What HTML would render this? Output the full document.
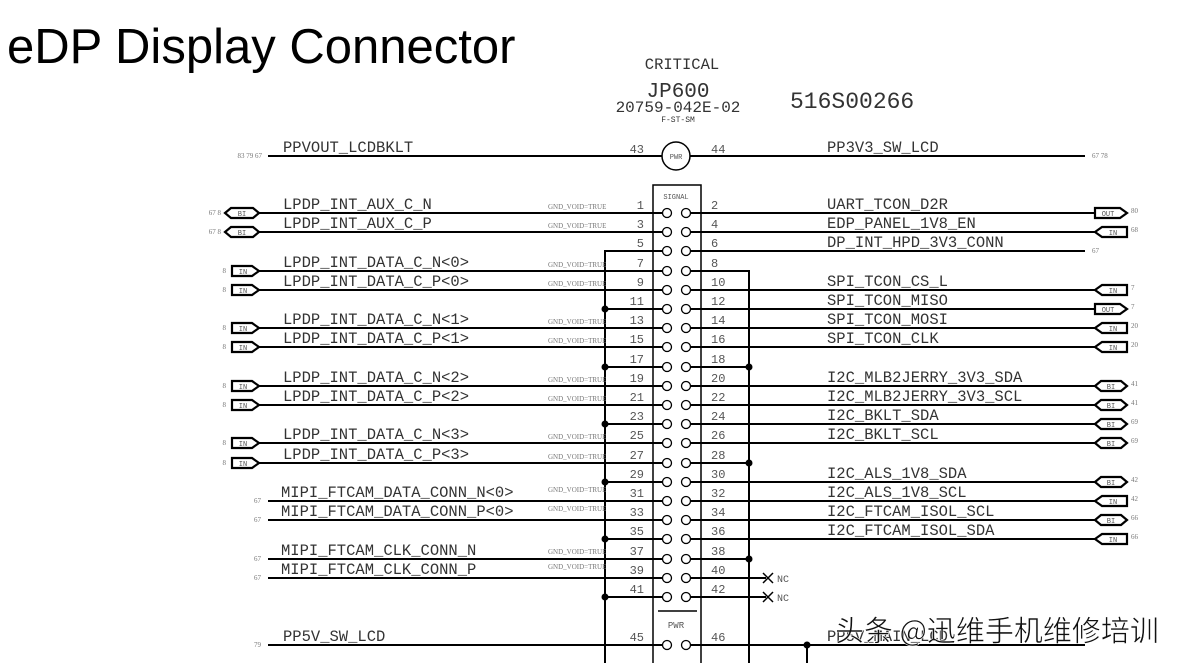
<!DOCTYPE html>
<html><head><meta charset="utf-8"><style>
html,body{margin:0;padding:0;background:#fff;}
svg{display:block;}
.t{font-family:"Liberation Mono",monospace;fill:#333;}
.lb{font-size:15.5px;}
.pn{font-size:12px;fill:#555;}
.sm{font-size:7px;fill:#777;}
.rf{font-size:7px;fill:#777;}
.fl{font-family:"Liberation Mono",monospace;font-size:7px;fill:#555;}
</style></head><body>
<svg width="1191" height="663" viewBox="0 0 1191 663" xmlns="http://www.w3.org/2000/svg">
<text x="7" y="63" font-family="Liberation Sans,sans-serif" font-size="49" fill="#000">eDP Display Connector</text>
<text class="t" x="682" y="69" font-size="15.5" text-anchor="middle">CRITICAL</text>
<text class="t" x="678" y="97" font-size="21" text-anchor="middle">JP600</text>
<text class="t" x="678" y="112" font-size="16" text-anchor="middle">20759-042E-02</text>
<text class="t" x="678" y="122" font-size="8" text-anchor="middle">F-ST-SM</text>
<text class="t" x="790" y="108" font-size="23">516S00266</text>

<g stroke="#000" stroke-width="2" fill="none">
<line x1="268" y1="156" x2="662" y2="156"/>
<line x1="690" y1="156" x2="1085" y2="156"/>
<circle cx="676" cy="156" r="14" stroke-width="1.5"/>
<path d="M653,663 L653,185 L701,185 L701,663" stroke-width="1.5"/>
<line x1="658" y1="611" x2="697" y2="611" stroke-width="1.5"/>
<path d="M662,251 L605,251 L605,663"/>
<path d="M691,271 L749,271 L749,663"/>
<line x1="259" y1="213" x2="662" y2="213"/>
<line x1="259" y1="232" x2="662" y2="232"/>
<line x1="259" y1="271" x2="662" y2="271"/>
<line x1="259" y1="290" x2="662" y2="290"/>
<line x1="605" y1="309" x2="662" y2="309"/>
<line x1="259" y1="328" x2="662" y2="328"/>
<line x1="259" y1="347" x2="662" y2="347"/>
<line x1="605" y1="367" x2="662" y2="367"/>
<line x1="259" y1="386" x2="662" y2="386"/>
<line x1="259" y1="405" x2="662" y2="405"/>
<line x1="605" y1="424" x2="662" y2="424"/>
<line x1="259" y1="443" x2="662" y2="443"/>
<line x1="259" y1="463" x2="662" y2="463"/>
<line x1="605" y1="482" x2="662" y2="482"/>
<line x1="268" y1="501" x2="662" y2="501"/>
<line x1="268" y1="520" x2="662" y2="520"/>
<line x1="605" y1="539" x2="662" y2="539"/>
<line x1="268" y1="559" x2="662" y2="559"/>
<line x1="268" y1="578" x2="662" y2="578"/>
<line x1="605" y1="597" x2="662" y2="597"/>
<line x1="268" y1="645" x2="662" y2="645"/>
<line x1="691" y1="213" x2="1095" y2="213"/>
<line x1="691" y1="232" x2="1095" y2="232"/>
<line x1="691" y1="251" x2="1085" y2="251"/>
<line x1="691" y1="290" x2="1095" y2="290"/>
<line x1="691" y1="309" x2="1095" y2="309"/>
<line x1="691" y1="328" x2="1095" y2="328"/>
<line x1="691" y1="347" x2="1095" y2="347"/>
<line x1="691" y1="367" x2="749" y2="367"/>
<line x1="691" y1="386" x2="1095" y2="386"/>
<line x1="691" y1="405" x2="1095" y2="405"/>
<line x1="691" y1="424" x2="1095" y2="424"/>
<line x1="691" y1="443" x2="1095" y2="443"/>
<line x1="691" y1="463" x2="749" y2="463"/>
<line x1="691" y1="482" x2="1095" y2="482"/>
<line x1="691" y1="501" x2="1095" y2="501"/>
<line x1="691" y1="520" x2="1095" y2="520"/>
<line x1="691" y1="539" x2="1095" y2="539"/>
<line x1="691" y1="559" x2="749" y2="559"/>
<line x1="691" y1="578" x2="766" y2="578"/>
<line x1="691" y1="597" x2="766" y2="597"/>
<line x1="691" y1="645" x2="1085" y2="645"/>
<line x1="807" y1="645" x2="807" y2="663"/>
<path d="M763,573 L773,583 M773,573 L763,583 M763,592 L773,602 M773,592 L763,602" stroke-width="1.5"/>
<g stroke-width="1.3">
<circle cx="667" cy="213" r="4.5"/><circle cx="686" cy="213" r="4.5"/>
<circle cx="667" cy="232" r="4.5"/><circle cx="686" cy="232" r="4.5"/>
<circle cx="667" cy="251" r="4.5"/><circle cx="686" cy="251" r="4.5"/>
<circle cx="667" cy="271" r="4.5"/><circle cx="686" cy="271" r="4.5"/>
<circle cx="667" cy="290" r="4.5"/><circle cx="686" cy="290" r="4.5"/>
<circle cx="667" cy="309" r="4.5"/><circle cx="686" cy="309" r="4.5"/>
<circle cx="667" cy="328" r="4.5"/><circle cx="686" cy="328" r="4.5"/>
<circle cx="667" cy="347" r="4.5"/><circle cx="686" cy="347" r="4.5"/>
<circle cx="667" cy="367" r="4.5"/><circle cx="686" cy="367" r="4.5"/>
<circle cx="667" cy="386" r="4.5"/><circle cx="686" cy="386" r="4.5"/>
<circle cx="667" cy="405" r="4.5"/><circle cx="686" cy="405" r="4.5"/>
<circle cx="667" cy="424" r="4.5"/><circle cx="686" cy="424" r="4.5"/>
<circle cx="667" cy="443" r="4.5"/><circle cx="686" cy="443" r="4.5"/>
<circle cx="667" cy="463" r="4.5"/><circle cx="686" cy="463" r="4.5"/>
<circle cx="667" cy="482" r="4.5"/><circle cx="686" cy="482" r="4.5"/>
<circle cx="667" cy="501" r="4.5"/><circle cx="686" cy="501" r="4.5"/>
<circle cx="667" cy="520" r="4.5"/><circle cx="686" cy="520" r="4.5"/>
<circle cx="667" cy="539" r="4.5"/><circle cx="686" cy="539" r="4.5"/>
<circle cx="667" cy="559" r="4.5"/><circle cx="686" cy="559" r="4.5"/>
<circle cx="667" cy="578" r="4.5"/><circle cx="686" cy="578" r="4.5"/>
<circle cx="667" cy="597" r="4.5"/><circle cx="686" cy="597" r="4.5"/>
<circle cx="667" cy="645" r="4.5"/><circle cx="686" cy="645" r="4.5"/>
</g>
<g stroke-width="2.2">
<path d="M225,213 L231,208 L253,208 L259,213 L253,218 L231,218 Z"/>
<path d="M225,232 L231,227 L253,227 L259,232 L253,237 L231,237 Z"/>
<path d="M232,266 L252,266 L259,271 L252,276 L232,276 Z"/>
<path d="M232,285 L252,285 L259,290 L252,295 L232,295 Z"/>
<path d="M232,323 L252,323 L259,328 L252,333 L232,333 Z"/>
<path d="M232,342 L252,342 L259,347 L252,352 L232,352 Z"/>
<path d="M232,381 L252,381 L259,386 L252,391 L232,391 Z"/>
<path d="M232,400 L252,400 L259,405 L252,410 L232,410 Z"/>
<path d="M232,438 L252,438 L259,443 L252,448 L232,448 Z"/>
<path d="M232,458 L252,458 L259,463 L252,468 L232,468 Z"/>
<path d="M1095,208 L1120,208 L1127,213 L1120,218 L1095,218 Z"/>
<path d="M1095,232 L1102,227 L1127,227 L1127,237 L1102,237 Z"/>
<path d="M1095,290 L1102,285 L1127,285 L1127,295 L1102,295 Z"/>
<path d="M1095,304 L1120,304 L1127,309 L1120,314 L1095,314 Z"/>
<path d="M1095,328 L1102,323 L1127,323 L1127,333 L1102,333 Z"/>
<path d="M1095,347 L1102,342 L1127,342 L1127,352 L1102,352 Z"/>
<path d="M1095,386 L1101,381 L1121,381 L1127,386 L1121,391 L1101,391 Z"/>
<path d="M1095,405 L1101,400 L1121,400 L1127,405 L1121,410 L1101,410 Z"/>
<path d="M1095,424 L1101,419 L1121,419 L1127,424 L1121,429 L1101,429 Z"/>
<path d="M1095,443 L1101,438 L1121,438 L1127,443 L1121,448 L1101,448 Z"/>
<path d="M1095,482 L1101,477 L1121,477 L1127,482 L1121,487 L1101,487 Z"/>
<path d="M1095,501 L1102,496 L1127,496 L1127,506 L1102,506 Z"/>
<path d="M1095,520 L1101,515 L1121,515 L1127,520 L1121,525 L1101,525 Z"/>
<path d="M1095,539 L1102,534 L1127,534 L1127,544 L1102,544 Z"/>
</g>
</g>
<g fill="#000">
<circle cx="605" cy="309" r="3.5"/><circle cx="605" cy="367" r="3.5"/><circle cx="605" cy="424" r="3.5"/>
<circle cx="605" cy="482" r="3.5"/><circle cx="605" cy="539" r="3.5"/><circle cx="605" cy="597" r="3.5"/>
<circle cx="749" cy="367" r="3.5"/><circle cx="749" cy="463" r="3.5"/><circle cx="749" cy="559" r="3.5"/>
<circle cx="807" cy="645" r="3.5"/>
</g>

<g class="fl" text-anchor="middle">
<text x="242" y="216">BI</text><text x="242" y="235">BI</text>
<text x="243" y="274">IN</text><text x="243" y="293">IN</text><text x="243" y="331">IN</text><text x="243" y="350">IN</text>
<text x="243" y="389">IN</text><text x="243" y="408">IN</text><text x="243" y="446">IN</text><text x="243" y="466">IN</text>
<text x="1108" y="216">OUT</text><text x="1113" y="235">IN</text><text x="1113" y="293">IN</text><text x="1108" y="312">OUT</text>
<text x="1113" y="331">IN</text><text x="1113" y="350">IN</text>
<text x="1111" y="389">BI</text><text x="1111" y="408">BI</text><text x="1111" y="427">BI</text><text x="1111" y="446">BI</text>
<text x="1111" y="485">BI</text><text x="1113" y="504">IN</text><text x="1111" y="523">BI</text><text x="1113" y="542">IN</text>
<text x="676" y="159">PWR</text>
<text x="676" y="199">SIGNAL</text>
<text x="676" y="628" font-size="9">PWR</text>
</g>

<g class="rf" text-anchor="end">
<text x="262" y="158">83 79 67</text>
<text x="221" y="215">67 8</text><text x="221" y="234">67 8</text>
<text x="226" y="273">8</text><text x="226" y="292">8</text><text x="226" y="330">8</text><text x="226" y="349">8</text>
<text x="226" y="388">8</text><text x="226" y="407">8</text><text x="226" y="445">8</text><text x="226" y="465">8</text>
<text x="261" y="503">67</text><text x="261" y="522">67</text><text x="261" y="561">67</text><text x="261" y="580">67</text>
<text x="261" y="647">79</text>
</g>
<g class="rf">
<text x="1092" y="158">67 78</text>
<text x="1131" y="213">80</text><text x="1131" y="232">68</text><text x="1092" y="253">67</text>
<text x="1131" y="290">7</text><text x="1131" y="309">7</text><text x="1131" y="328">20</text><text x="1131" y="347">20</text>
<text x="1131" y="386">41</text><text x="1131" y="405">41</text><text x="1131" y="424">69</text><text x="1131" y="443">69</text>
<text x="1131" y="482">42</text><text x="1131" y="501">42</text><text x="1131" y="520">66</text><text x="1131" y="539">66</text>
</g>

<g class="sm">
<text x="548" y="209">GND_VOID=TRUE</text><text x="548" y="228">GND_VOID=TRUE</text>
<text x="548" y="267">GND_VOID=TRUE</text><text x="548" y="286">GND_VOID=TRUE</text>
<text x="548" y="324">GND_VOID=TRUE</text><text x="548" y="343">GND_VOID=TRUE</text>
<text x="548" y="382">GND_VOID=TRUE</text><text x="548" y="401">GND_VOID=TRUE</text>
<text x="548" y="439">GND_VOID=TRUE</text><text x="548" y="459">GND_VOID=TRUE</text>
<text x="548" y="492">GND_VOID=TRUE</text><text x="548" y="511">GND_VOID=TRUE</text>
<text x="548" y="554">GND_VOID=TRUE</text><text x="548" y="569">GND_VOID=TRUE</text>
</g>

<g class="t pn" text-anchor="end">
<text x="644" y="153">43</text>
<text x="644" y="209">1</text><text x="644" y="228">3</text><text x="644" y="247">5</text><text x="644" y="267">7</text>
<text x="644" y="286">9</text><text x="644" y="305">11</text><text x="644" y="324">13</text><text x="644" y="343">15</text>
<text x="644" y="363">17</text><text x="644" y="382">19</text><text x="644" y="401">21</text><text x="644" y="420">23</text>
<text x="644" y="439">25</text><text x="644" y="459">27</text><text x="644" y="478">29</text><text x="644" y="497">31</text>
<text x="644" y="516">33</text><text x="644" y="535">35</text><text x="644" y="555">37</text><text x="644" y="574">39</text>
<text x="644" y="593">41</text><text x="644" y="641">45</text>
</g>
<g class="t pn">
<text x="711" y="153">44</text>
<text x="711" y="209">2</text><text x="711" y="228">4</text><text x="711" y="247">6</text><text x="711" y="267">8</text>
<text x="711" y="286">10</text><text x="711" y="305">12</text><text x="711" y="324">14</text><text x="711" y="343">16</text>
<text x="711" y="363">18</text><text x="711" y="382">20</text><text x="711" y="401">22</text><text x="711" y="420">24</text>
<text x="711" y="439">26</text><text x="711" y="459">28</text><text x="711" y="478">30</text><text x="711" y="497">32</text>
<text x="711" y="516">34</text><text x="711" y="535">36</text><text x="711" y="555">38</text><text x="711" y="574">40</text>
<text x="711" y="593">42</text><text x="711" y="641">46</text>
<text x="777" y="582" font-size="10">NC</text><text x="777" y="601" font-size="10">NC</text>
</g>

<g class="t lb">
<text x="283" y="152">PPVOUT_LCDBKLT</text>
<text x="283" y="209">LPDP_INT_AUX_C_N</text>
<text x="283" y="228">LPDP_INT_AUX_C_P</text>
<text x="283" y="267">LPDP_INT_DATA_C_N&lt;0&gt;</text>
<text x="283" y="286">LPDP_INT_DATA_C_P&lt;0&gt;</text>
<text x="283" y="324">LPDP_INT_DATA_C_N&lt;1&gt;</text>
<text x="283" y="343">LPDP_INT_DATA_C_P&lt;1&gt;</text>
<text x="283" y="382">LPDP_INT_DATA_C_N&lt;2&gt;</text>
<text x="283" y="401">LPDP_INT_DATA_C_P&lt;2&gt;</text>
<text x="283" y="439">LPDP_INT_DATA_C_N&lt;3&gt;</text>
<text x="283" y="459">LPDP_INT_DATA_C_P&lt;3&gt;</text>
<text x="281" y="497">MIPI_FTCAM_DATA_CONN_N&lt;0&gt;</text>
<text x="281" y="516">MIPI_FTCAM_DATA_CONN_P&lt;0&gt;</text>
<text x="281" y="555">MIPI_FTCAM_CLK_CONN_N</text>
<text x="281" y="574">MIPI_FTCAM_CLK_CONN_P</text>
<text x="283" y="641">PP5V_SW_LCD</text>
<text x="827" y="152">PP3V3_SW_LCD</text>
<text x="827" y="209">UART_TCON_D2R</text>
<text x="827" y="228">EDP_PANEL_1V8_EN</text>
<text x="827" y="247">DP_INT_HPD_3V3_CONN</text>
<text x="827" y="286">SPI_TCON_CS_L</text>
<text x="827" y="305">SPI_TCON_MISO</text>
<text x="827" y="324">SPI_TCON_MOSI</text>
<text x="827" y="343">SPI_TCON_CLK</text>
<text x="827" y="382">I2C_MLB2JERRY_3V3_SDA</text>
<text x="827" y="401">I2C_MLB2JERRY_3V3_SCL</text>
<text x="827" y="420">I2C_BKLT_SDA</text>
<text x="827" y="439">I2C_BKLT_SCL</text>
<text x="827" y="478">I2C_ALS_1V8_SDA</text>
<text x="827" y="497">I2C_ALS_1V8_SCL</text>
<text x="827" y="516">I2C_FTCAM_ISOL_SCL</text>
<text x="827" y="535">I2C_FTCAM_ISOL_SDA</text>
<text x="827" y="641">PP5V_MAIN_LCD</text>
</g>
<text x="835" y="641" font-family="'Noto Sans CJK SC',sans-serif" font-size="29" fill="#111" stroke="#fff" stroke-width="0.6">头条 @迅维手机维修培训</text>
</svg>
</body></html>
